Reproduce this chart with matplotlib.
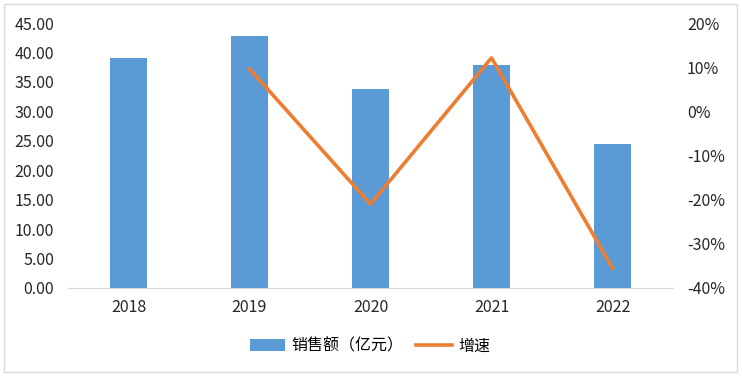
import matplotlib
matplotlib.use('Agg')
import matplotlib.pyplot as plt
from matplotlib.patches import Rectangle
from matplotlib.ticker import FuncFormatter

plt.rcParams['font.family'] = ['Noto Sans CJK SC', 'DejaVu Sans']

years = ['2018', '2019', '2020', '2021', '2022']
sales = [39.05, 42.8, 33.8, 37.9, 24.45]
growth_years = ['2019', '2020', '2021', '2022']
growth = [9.6, -21.0, 12.1, -35.5]

fig = plt.figure(figsize=(7.42, 3.78), dpi=100)
ax = fig.add_axes([68/742, 1-288/378, (673-68)/742, (288-23)/378])
x = list(range(len(years)))
bars = ax.bar(x, sales, width=0.31, color='#5B9BD5', label='销售额（亿元）', zorder=2)
ax.set_xlim(-0.5, len(years)-0.5)
ax.set_ylim(0, 45)
ax.set_yticks([i*5 for i in range(10)])
ax.yaxis.set_major_formatter(FuncFormatter(lambda v, p: '%.2f' % v))
ax.set_xticks(x)
ax.set_xticklabels(years)
for s in ['top', 'right', 'left']:
    ax.spines[s].set_visible(False)
ax.spines['bottom'].set_color('#D9D9D9')
ax.tick_params(length=0, labelsize=11.5, colors='#262626')
ax.tick_params(axis='y', pad=10)
ax.tick_params(axis='x', pad=8)

ax2 = ax.twinx()
gx = [years.index(y) for y in growth_years]
line, = ax2.plot(gx, growth, color='#ED7D31', lw=2.6, label='增速', zorder=3)
ax2.set_ylim(-40, 20)
ax2.set_yticks(range(-40, 21, 10))
ax2.yaxis.set_major_formatter(FuncFormatter(lambda v, p: '%d%%' % v))
for s in ax2.spines.values():
    s.set_visible(False)
ax2.tick_params(length=0, labelsize=11.5, colors='#262626', pad=10)

fig.legend(handles=[bars, line], loc='center', bbox_to_anchor=(370/742, 1-346/378),
           ncol=2, frameon=False, fontsize=11.5, handlelength=2.2, columnspacing=0.8,
           handletextpad=0.4)

fig.patches.append(Rectangle((4/742, 1-372/378), 733/742, 368/378, transform=fig.transFigure,
                             fill=False, edgecolor='#D9D9D9', lw=1))

fig.savefig('out.png', dpi=100)
